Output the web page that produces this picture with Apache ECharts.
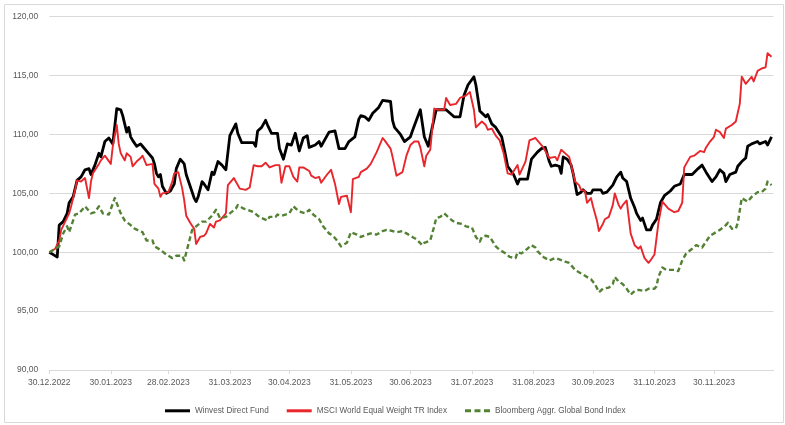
<!DOCTYPE html>
<html>
<head>
<meta charset="utf-8">
<script src="https://cdn.jsdelivr.net/npm/echarts@6/dist/echarts.min.js"></script>
<style>
html,body{margin:0;padding:0;background:#fff;}
#chart{width:785px;height:425px;}
</style>
</head>
<body>
<div id="chart"></div>
<script>
// Axis tick labels (dates shown under the x axis)
const tickLabels = ['30.12.2022','30.01.2023','28.02.2023','31.03.2023','30.04.2023','31.05.2023','30.06.2023','31.07.2023','31.08.2023','30.09.2023','31.10.2023','30.11.2023'];
const axisStart = '2022-12-30';
const axisEnd = '2023-12-30';
const yTicks = [90, 95, 100, 105, 110, 115, 120];

// Winvest Direct Fund
const fundDates = ['2022-12-30','2023-01-01','2023-01-03','2023-01-04','2023-01-06','2023-01-08','2023-01-09','2023-01-11','2023-01-13','2023-01-15','2023-01-17','2023-01-19','2023-01-20','2023-01-22','2023-01-24','2023-01-25','2023-01-27','2023-01-29','2023-01-30','2023-01-31','2023-02-02','2023-02-04','2023-02-05','2023-02-07','2023-02-08','2023-02-09','2023-02-10','2023-02-12','2023-02-14','2023-02-15','2023-02-18','2023-02-20','2023-02-21','2023-02-22','2023-02-23','2023-02-24','2023-02-25','2023-02-27','2023-03-01','2023-03-03','2023-03-04','2023-03-06','2023-03-08','2023-03-09','2023-03-11','2023-03-13','2023-03-14','2023-03-15','2023-03-17','2023-03-18','2023-03-20','2023-03-22','2023-03-23','2023-03-25','2023-03-27','2023-03-29','2023-03-31','2023-04-03','2023-04-04','2023-04-06','2023-04-08','2023-04-10','2023-04-12','2023-04-13','2023-04-14','2023-04-16','2023-04-18','2023-04-19','2023-04-21','2023-04-24','2023-04-25','2023-04-27','2023-04-29','2023-05-01','2023-05-03','2023-05-05','2023-05-07','2023-05-09','2023-05-10','2023-05-13','2023-05-15','2023-05-16','2023-05-19','2023-05-20','2023-05-23','2023-05-25','2023-05-28','2023-05-30','2023-05-31','2023-06-02','2023-06-04','2023-06-05','2023-06-07','2023-06-09','2023-06-11','2023-06-14','2023-06-16','2023-06-17','2023-06-20','2023-06-21','2023-06-22','2023-06-25','2023-06-27','2023-06-30','2023-07-01','2023-07-03','2023-07-05','2023-07-07','2023-07-09','2023-07-10','2023-07-11','2023-07-13','2023-07-16','2023-07-18','2023-07-20','2023-07-22','2023-07-25','2023-07-27','2023-07-29','2023-08-01','2023-08-02','2023-08-04','2023-08-07','2023-08-08','2023-08-10','2023-08-12','2023-08-15','2023-08-17','2023-08-18','2023-08-21','2023-08-23','2023-08-24','2023-08-28','2023-08-30','2023-09-02','2023-09-04','2023-09-06','2023-09-08','2023-09-09','2023-09-11','2023-09-13','2023-09-14','2023-09-15','2023-09-17','2023-09-19','2023-09-20','2023-09-22','2023-09-24','2023-09-25','2023-09-27','2023-09-29','2023-09-30','2023-10-02','2023-10-04','2023-10-05','2023-10-07','2023-10-10','2023-10-12','2023-10-14','2023-10-15','2023-10-17','2023-10-19','2023-10-21','2023-10-22','2023-10-24','2023-10-25','2023-10-27','2023-10-29','2023-10-30','2023-11-01','2023-11-03','2023-11-05','2023-11-08','2023-11-10','2023-11-13','2023-11-15','2023-11-17','2023-11-19','2023-11-22','2023-11-24','2023-11-26','2023-11-29','2023-12-01','2023-12-03','2023-12-05','2023-12-06','2023-12-08','2023-12-11','2023-12-12','2023-12-14','2023-12-16','2023-12-17','2023-12-19','2023-12-22','2023-12-23','2023-12-26','2023-12-27','2023-12-29'];
const fundValues = [100.0,99.8,99.6,102.3,102.6,103.3,104.2,104.7,106.1,106.4,107.0,107.1,106.6,107.4,108.4,108.1,109.4,109.7,109.8,109.2,112.2,112.1,111.6,110.2,110.6,109.8,109.5,109.0,109.2,109.0,108.4,108.0,107.5,106.7,106.4,106.6,105.6,105.0,105.2,105.8,107.1,107.9,107.5,106.6,105.6,104.6,104.3,104.7,106.0,105.8,105.3,106.8,106.6,107.7,107.4,107.0,109.9,110.9,110.1,109.3,109.3,109.3,109.3,109.0,110.3,110.6,111.2,110.8,110.1,110.1,108.8,107.9,109.2,109.1,110.1,108.6,109.7,109.9,108.9,109.1,109.4,109.0,109.9,110.2,110.3,108.8,108.8,109.4,109.3,109.8,111.3,111.6,111.5,111.2,111.8,112.3,112.9,113.0,112.8,111.2,110.6,110.0,109.4,109.8,110.3,111.2,112.1,109.8,109.0,108.9,110.6,112.1,112.1,112.1,111.8,111.5,111.5,113.3,114.2,114.9,114.2,112.0,111.5,111.7,110.9,110.6,109.8,108.2,107.3,106.6,105.8,106.2,106.2,107.9,108.5,108.8,108.9,107.7,107.3,107.4,107.3,106.7,108.1,107.9,107.4,106.7,104.9,105.1,105.3,105.0,105.0,105.3,105.3,105.3,105.0,105.1,105.7,106.4,106.8,106.3,106.0,104.6,103.8,103.3,102.7,102.9,101.9,101.9,102.3,102.8,104.2,104.8,105.2,105.6,105.8,106.6,106.6,106.6,107.1,107.4,106.8,106.0,106.4,107.0,106.7,106.0,106.6,106.8,107.3,107.7,108.0,109.0,109.2,109.4,109.2,109.4,109.1,109.8];

// MSCI World Equal Weight TR Index
const msciDates = ['2022-12-30','2023-01-02','2023-01-04','2023-01-05','2023-01-07','2023-01-09','2023-01-10','2023-01-12','2023-01-13','2023-01-15','2023-01-17','2023-01-19','2023-01-20','2023-01-21','2023-01-24','2023-01-25','2023-01-27','2023-01-30','2023-01-31','2023-02-02','2023-02-03','2023-02-04','2023-02-06','2023-02-07','2023-02-09','2023-02-10','2023-02-12','2023-02-14','2023-02-15','2023-02-17','2023-02-20','2023-02-21','2023-02-23','2023-02-24','2023-02-25','2023-02-28','2023-03-02','2023-03-03','2023-03-05','2023-03-07','2023-03-08','2023-03-09','2023-03-11','2023-03-13','2023-03-14','2023-03-16','2023-03-18','2023-03-19','2023-03-21','2023-03-23','2023-03-24','2023-03-26','2023-03-29','2023-03-30','2023-04-02','2023-04-03','2023-04-05','2023-04-08','2023-04-10','2023-04-12','2023-04-14','2023-04-16','2023-04-18','2023-04-20','2023-04-23','2023-04-25','2023-04-26','2023-04-28','2023-04-30','2023-05-02','2023-05-04','2023-05-05','2023-05-07','2023-05-10','2023-05-11','2023-05-13','2023-05-15','2023-05-16','2023-05-19','2023-05-21','2023-05-23','2023-05-25','2023-05-26','2023-05-29','2023-05-31','2023-06-01','2023-06-04','2023-06-05','2023-06-08','2023-06-10','2023-06-13','2023-06-16','2023-06-17','2023-06-20','2023-06-21','2023-06-23','2023-06-26','2023-06-28','2023-06-30','2023-07-02','2023-07-04','2023-07-05','2023-07-07','2023-07-08','2023-07-10','2023-07-12','2023-07-14','2023-07-17','2023-07-18','2023-07-20','2023-07-23','2023-07-25','2023-07-28','2023-07-30','2023-08-01','2023-08-02','2023-08-05','2023-08-07','2023-08-08','2023-08-10','2023-08-12','2023-08-14','2023-08-16','2023-08-18','2023-08-20','2023-08-23','2023-08-24','2023-08-27','2023-08-29','2023-09-01','2023-09-02','2023-09-05','2023-09-08','2023-09-09','2023-09-11','2023-09-12','2023-09-14','2023-09-15','2023-09-18','2023-09-19','2023-09-21','2023-09-23','2023-09-24','2023-09-26','2023-09-27','2023-09-29','2023-09-30','2023-10-02','2023-10-03','2023-10-05','2023-10-06','2023-10-08','2023-10-10','2023-10-11','2023-10-13','2023-10-14','2023-10-15','2023-10-17','2023-10-19','2023-10-21','2023-10-23','2023-10-24','2023-10-26','2023-10-28','2023-10-29','2023-10-31','2023-11-02','2023-11-04','2023-11-05','2023-11-07','2023-11-10','2023-11-12','2023-11-14','2023-11-15','2023-11-16','2023-11-18','2023-11-20','2023-11-21','2023-11-23','2023-11-25','2023-11-26','2023-11-28','2023-11-30','2023-12-01','2023-12-03','2023-12-05','2023-12-06','2023-12-09','2023-12-11','2023-12-13','2023-12-14','2023-12-16','2023-12-17','2023-12-19','2023-12-20','2023-12-22','2023-12-24','2023-12-26','2023-12-27','2023-12-29'];
const msciValues = [100.0,100.3,101.0,101.9,102.6,103.3,103.9,105.3,106.1,106.0,106.3,104.6,106.0,106.7,107.5,107.8,108.2,107.5,109.0,110.8,109.2,108.4,107.8,108.4,108.1,107.3,107.7,108.0,108.2,107.4,107.5,105.8,105.4,104.7,105.0,105.1,106.0,106.7,106.8,105.4,104.4,103.1,102.5,102.0,100.7,101.3,101.4,101.6,102.4,102.1,102.6,102.7,103.3,105.7,106.3,106.0,105.4,105.3,105.5,107.4,107.3,107.3,107.6,107.2,107.4,107.4,105.9,107.3,107.3,106.4,106.0,107.2,107.2,106.9,106.5,106.3,106.4,105.9,106.6,107.0,105.8,104.1,104.7,104.8,103.4,106.2,106.4,106.8,107.1,107.5,108.5,109.7,109.5,108.8,108.1,106.5,106.8,108.2,109.1,109.4,109.4,108.9,107.3,108.2,108.7,112.2,112.1,112.1,113.1,112.5,112.6,113.1,113.3,113.6,112.1,110.6,111.1,110.8,110.4,110.5,109.9,109.5,108.4,106.7,106.6,107.4,106.6,107.7,109.5,109.7,109.5,108.9,108.0,108.1,108.1,107.8,108.7,108.6,108.1,108.0,106.0,105.7,105.3,105.2,104.2,104.6,103.9,102.7,101.8,102.4,102.8,103.0,104.0,105.0,104.0,103.7,104.0,104.4,101.6,100.6,100.3,100.5,99.5,99.1,99.3,99.8,102.5,104.3,104.4,103.7,103.4,103.5,104.2,107.2,107.5,108.1,108.2,108.1,108.6,108.5,108.9,109.4,109.8,110.4,110.2,109.7,110.5,110.8,111.1,112.6,114.9,114.3,114.2,114.9,114.5,115.4,115.6,115.7,116.9,116.6];

// Bloomberg Aggr. Global Bond Index
const bondDates = ['2022-12-30','2023-01-04','2023-01-06','2023-01-08','2023-01-09','2023-01-12','2023-01-14','2023-01-17','2023-01-20','2023-01-22','2023-01-24','2023-01-26','2023-01-29','2023-01-30','2023-02-01','2023-02-04','2023-02-06','2023-02-09','2023-02-11','2023-02-15','2023-02-17','2023-02-20','2023-02-21','2023-02-24','2023-02-27','2023-03-02','2023-03-04','2023-03-07','2023-03-08','2023-03-10','2023-03-12','2023-03-14','2023-03-17','2023-03-19','2023-03-22','2023-03-24','2023-03-26','2023-03-29','2023-03-31','2023-04-03','2023-04-04','2023-04-07','2023-04-09','2023-04-12','2023-04-14','2023-04-16','2023-04-19','2023-04-20','2023-04-23','2023-04-24','2023-04-26','2023-04-28','2023-04-30','2023-05-02','2023-05-04','2023-05-06','2023-05-08','2023-05-10','2023-05-12','2023-05-15','2023-05-17','2023-05-20','2023-05-22','2023-05-24','2023-05-26','2023-05-29','2023-05-31','2023-06-03','2023-06-05','2023-06-08','2023-06-10','2023-06-13','2023-06-16','2023-06-18','2023-06-21','2023-06-23','2023-06-26','2023-06-28','2023-07-01','2023-07-03','2023-07-06','2023-07-07','2023-07-10','2023-07-12','2023-07-13','2023-07-15','2023-07-17','2023-07-19','2023-07-21','2023-07-23','2023-07-26','2023-07-28','2023-07-31','2023-08-02','2023-08-04','2023-08-05','2023-08-07','2023-08-09','2023-08-12','2023-08-14','2023-08-17','2023-08-19','2023-08-22','2023-08-23','2023-08-25','2023-08-28','2023-08-30','2023-09-01','2023-09-02','2023-09-05','2023-09-08','2023-09-11','2023-09-13','2023-09-16','2023-09-18','2023-09-21','2023-09-24','2023-09-26','2023-09-29','2023-10-01','2023-10-03','2023-10-05','2023-10-08','2023-10-10','2023-10-11','2023-10-13','2023-10-15','2023-10-17','2023-10-19','2023-10-21','2023-10-23','2023-10-26','2023-10-28','2023-10-31','2023-11-01','2023-11-02','2023-11-04','2023-11-06','2023-11-10','2023-11-12','2023-11-14','2023-11-16','2023-11-19','2023-11-21','2023-11-24','2023-11-26','2023-11-28','2023-12-01','2023-12-03','2023-12-06','2023-12-07','2023-12-09','2023-12-11','2023-12-12','2023-12-14','2023-12-17','2023-12-19','2023-12-22','2023-12-24','2023-12-26','2023-12-27','2023-12-29'];
const bondValues = [100.0,100.5,101.6,102.2,101.7,103.2,103.3,103.9,103.3,103.4,103.9,103.3,103.2,103.3,104.6,103.3,102.7,102.3,102.0,101.7,101.0,101.0,100.5,100.2,99.8,99.5,99.7,99.7,99.3,100.6,101.9,102.2,102.6,102.6,103.1,103.6,102.9,103.0,103.3,103.7,104.0,103.7,103.6,103.4,103.1,102.9,102.7,103.0,103.0,103.2,103.1,103.2,103.3,103.9,103.6,103.4,103.3,103.6,103.2,102.8,102.2,101.6,101.4,101.0,100.5,100.8,101.7,101.5,101.3,101.5,101.6,101.5,101.8,101.9,101.8,101.7,101.8,101.6,101.3,101.1,100.6,100.8,101.0,102.2,102.9,103.0,103.3,103.0,102.7,102.5,102.4,102.2,102.1,101.3,100.9,101.3,101.4,101.3,100.5,100.2,99.9,99.6,99.5,100.0,99.9,100.3,100.6,100.4,100.1,99.6,99.3,99.5,99.4,99.2,99.1,98.5,98.2,98.0,97.7,97.3,96.6,96.9,97.0,97.3,97.9,97.5,97.3,96.9,96.4,96.7,96.8,96.7,96.9,96.9,97.1,97.9,98.7,98.5,98.5,98.4,99.3,99.9,100.3,100.6,100.4,100.9,101.4,101.7,101.9,102.3,102.5,102.0,102.0,102.5,104.6,104.3,104.7,105.1,105.1,105.4,106.0,105.7];

const seriesNames = ['Winvest Direct Fund', 'MSCI World Equal Weight TR Index', 'Bloomberg Aggr. Global Bond Index'];
const seriesColors = ['#000000', '#e8262b', '#548235'];

// build the daily category axis
function isoDays(a, b) {
  const out = [];
  const s = new Date(a + 'T00:00:00Z'), e = new Date(b + 'T00:00:00Z');
  for (let t = s.getTime(); t <= e.getTime(); t += 86400000) {
    out.push(new Date(t).toISOString().slice(0, 10));
  }
  return out;
}
const categories = isoDays(axisStart, axisEnd);
function fmtDate(iso) { const p = iso.split('-'); return p[2] + '.' + p[1] + '.' + p[0]; }
const showTick = (idx, val) => tickLabels.indexOf(fmtDate(val)) >= 0;
const pairs = (d, v) => d.map((x, i) => [x, v[i]]);

const solidIcon = 'path://M0,0H25V3H0Z';
const dashIcon = 'path://M0,0H6V3H0Z M9.5,0H15.5V3H9.5Z M19,0H25V3H19Z';

const FONT = 'Liberation Sans';
const chart = echarts.init(document.getElementById('chart'), null, {renderer: 'canvas'});
chart.setOption({
  animation: false,
  backgroundColor: '#ffffff',
  textStyle: {fontFamily: FONT},
  graphic: [{
    type: 'rect', left: 2, top: 2, silent: true, z: -10,
    shape: {width: 779, height: 418},
    style: {fill: 'none', stroke: '#d9d9d9', lineWidth: 1}
  }],
  grid: {left: 49.3, right: 11.5, top: 16.7, bottom: 55, containLabel: false},
  legend: {
    left: 165, top: 406.8, padding: 0, itemWidth: 25, itemHeight: 3, itemGap: 18,
    textStyle: {fontFamily: FONT, fontSize: 8.2, color: '#595959'},
    data: [
      {name: seriesNames[0], icon: solidIcon},
      {name: seriesNames[1], icon: solidIcon},
      {name: seriesNames[2], icon: dashIcon}
    ]
  },
  xAxis: {
    type: 'category', data: categories, boundaryGap: false,
    axisLine: {show: true, lineStyle: {color: '#d9d9d9', width: 1}},
    axisTick: {show: true, interval: showTick, length: 4, lineStyle: {color: '#d9d9d9'}},
    axisLabel: {interval: showTick, formatter: v => fmtDate(v), fontFamily: FONT, fontSize: 8.5, color: '#595959', margin: 8, hideOverlap: false},
    splitLine: {show: false}
  },
  yAxis: {
    type: 'value', min: yTicks[0], max: yTicks[yTicks.length - 1], interval: 5,
    axisLine: {show: false}, axisTick: {show: false},
    axisLabel: {formatter: v => v.toFixed(2).replace('.', ','), fontFamily: FONT, fontSize: 8.5, color: '#595959', margin: 11},
    splitLine: {lineStyle: {color: '#d9d9d9', width: 1}}
  },
  series: [
    {name: seriesNames[0], type: 'line', data: pairs(fundDates, fundValues), symbol: 'none', smooth: false,
     lineStyle: {color: seriesColors[0], width: 2.8, join: 'round'}, itemStyle: {color: seriesColors[0]}},
    {name: seriesNames[1], type: 'line', data: pairs(msciDates, msciValues), symbol: 'none', smooth: false,
     lineStyle: {color: seriesColors[1], width: 1.9, join: 'round'}, itemStyle: {color: seriesColors[1]}},
    {name: seriesNames[2], type: 'line', data: pairs(bondDates, bondValues), symbol: 'none', smooth: false,
     lineStyle: {color: seriesColors[2], width: 2.4, type: [5, 3], join: 'round'}, itemStyle: {color: seriesColors[2]}}
  ]
});
</script>
</body>
</html>
